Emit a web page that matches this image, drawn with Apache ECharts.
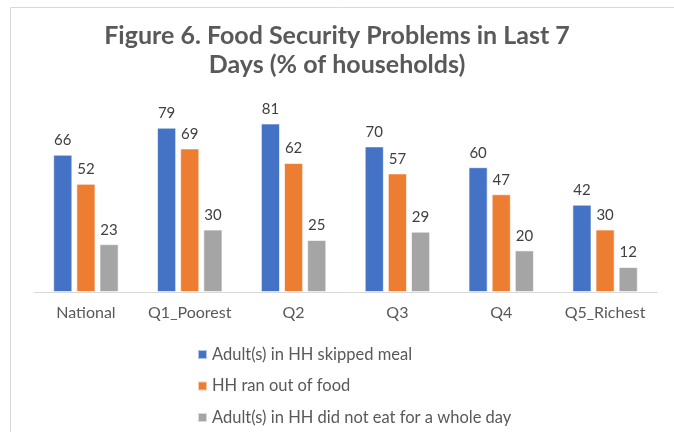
<!DOCTYPE html>
<html>
<head>
<meta charset="utf-8">
<style>
  html, body { margin: 0; padding: 0; background: #fff; }
  #chart { width: 674px; height: 432px; }
</style>
<script src="https://cdn.jsdelivr.net/npm/echarts@6/dist/echarts.min.js"></script>
</head>
<body>
<div id="chart"></div>
<script>
// Household groups along the x axis
const categories = ['National', 'Q1_Poorest', 'Q2', 'Q3', 'Q4', 'Q5_Richest'];

// Share of households (%) reporting each problem in the last 7 days
const skippedMeal = [66, 79, 81, 70, 60, 42];
const ranOutOfFood = [52, 69, 62, 57, 47, 30];
const noEatWholeDay = [23, 30, 25, 29, 20, 12];

const seriesNames = [
  'Adult(s) in HH skipped meal',
  'HH ran out of food',
  'Adult(s) in HH did not eat for a whole day'
];

const font = 'Lato, "Open Sans", sans-serif';
const textColor = '#595959';

function bar(name, data, color) {
  return {
    name: name,
    type: 'bar',
    data: data,
    barGap: '21%',
    barCategoryGap: '37%',
    itemStyle: { color: color, borderColor: 'rgba(255,255,255,0.6)', borderWidth: 1 },
    label: {
      show: true,
      position: 'top',
      distance: 7,
      color: '#404040',
      fontFamily: font,
      fontSize: 15
    }
  };
}

const chart = echarts.init(document.getElementById('chart'), null, { renderer: 'canvas' });
chart.setOption({
  animation: false,
  backgroundColor: '#ffffff',
  graphic: [{
    type: 'rect',
    shape: { x: 10.5, y: 7.5, width: 700, height: 500 },
    style: { fill: 'none', stroke: '#d9d9d9', lineWidth: 1 },
    silent: true
  }],
  title: {
    text: 'Figure 6. Food Security Problems in Last 7\nDays (% of households)',
    left: 'center',
    top: 16,
    textStyle: {
      fontFamily: font,
      fontWeight: 'bold',
      fontSize: 25,
      color: textColor,
      lineHeight: 29
    }
  },
  legend: {
    orient: 'vertical',
    left: 192,
    top: 341,
    itemWidth: 9,
    itemHeight: 9,
    itemGap: 14.5,
    icon: 'rect',
    textStyle: { fontFamily: font, fontSize: 16.5, color: textColor },
    data: seriesNames
  },
  grid: { left: 34, right: 17, top: 84, bottom: 140 },
  xAxis: {
    type: 'category',
    data: categories,
    axisLine: { lineStyle: { color: '#d9d9d9', width: 1 } },
    axisTick: { show: false },
    axisLabel: { interval: 0, color: textColor, fontFamily: font, fontSize: 16, margin: 13 }
  },
  yAxis: {
    type: 'value',
    min: 0,
    max: 100,
    show: false,
    splitLine: { show: false }
  },
  series: [
    bar(seriesNames[0], skippedMeal, '#4472C4'),
    bar(seriesNames[1], ranOutOfFood, '#ED7D31'),
    bar(seriesNames[2], noEatWholeDay, '#A5A5A5')
  ]
});
</script>
</body>
</html>
